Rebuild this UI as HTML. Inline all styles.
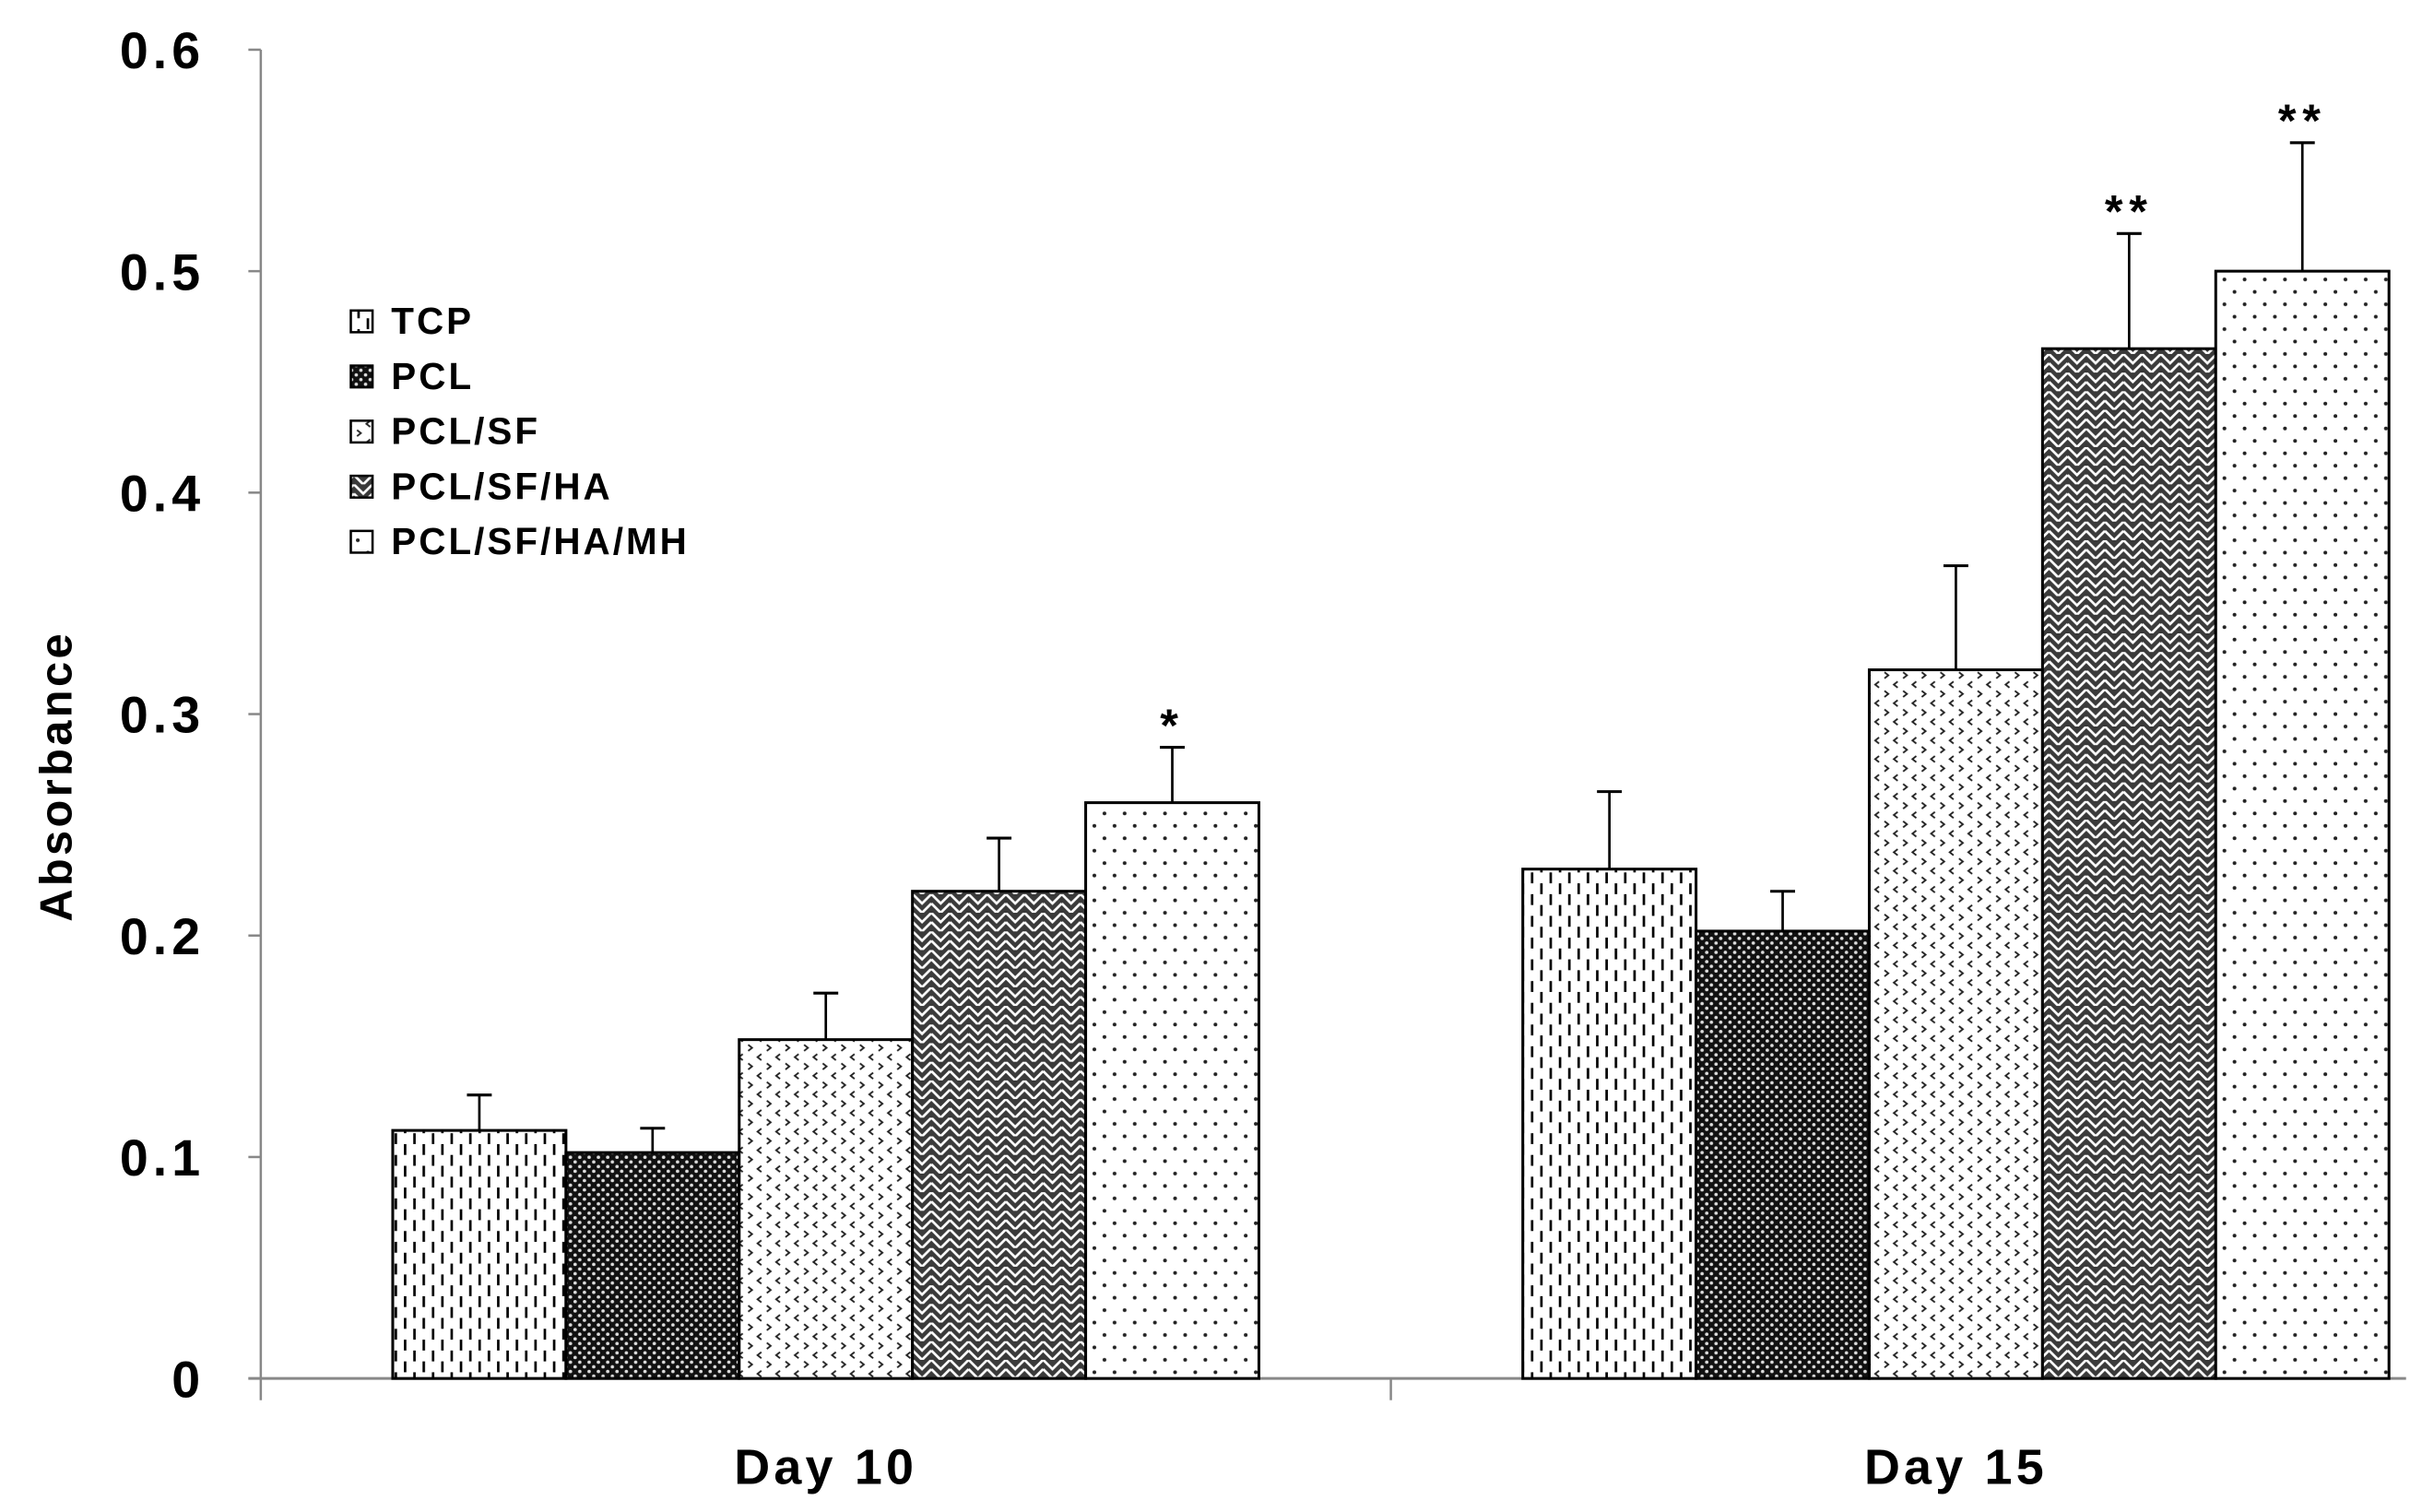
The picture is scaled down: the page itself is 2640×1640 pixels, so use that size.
<!DOCTYPE html>
<html><head><meta charset="utf-8"><style>
html,body{margin:0;padding:0;background:#fff;}
svg{display:block;}
text{font-family:"Liberation Sans",sans-serif;font-weight:bold;fill:#000;}
</style></head><body>
<svg id="chart" width="2640" height="1640" viewBox="0 0 1568 974" xmlns="http://www.w3.org/2000/svg">
<defs>
<pattern id="p0" width="12" height="14" patternUnits="userSpaceOnUse"><rect width="12" height="14" fill="#fff"/><line x1="3" y1="2" x2="3" y2="9" stroke="#000" stroke-width="1.6"/><line x1="9" y1="9" x2="9" y2="16" stroke="#000" stroke-width="1.6"/><line x1="9" y1="-5" x2="9" y2="2" stroke="#000" stroke-width="1.6"/></pattern>
<pattern id="p1" width="6" height="6" patternUnits="userSpaceOnUse"><rect width="6" height="6" fill="#111"/><circle cx="1.5" cy="1.5" r="1.1" fill="#ddd"/><circle cx="4.5" cy="4.5" r="1.1" fill="#ddd"/></pattern>
<pattern id="p2" width="12" height="12" patternUnits="userSpaceOnUse"><rect width="12" height="12" fill="#fff"/><path d="M2 1 L4.5 3 L2 5" fill="none" stroke="#222" stroke-width="1.1"/><path d="M10.5 7 L8 9 L10.5 11" fill="none" stroke="#222" stroke-width="1.1"/></pattern>
<pattern id="p3" width="12" height="12" patternUnits="userSpaceOnUse"><rect width="12" height="12" fill="#3a3a3a"/><path d="M0 0 L6 6 L12 0 M0 6 L6 12 L12 6" stroke="#fff" stroke-width="1.6" fill="none"/></pattern>
<pattern id="p4" width="13" height="16" patternUnits="userSpaceOnUse"><rect width="13" height="16" fill="#fff"/><circle cx="3" cy="4" r="1.2" fill="#222"/><circle cx="9.5" cy="12" r="1.2" fill="#222"/></pattern>
</defs>
<g id="axes"></g>
<g id="bars"></g>
<g id="legend"></g>
</svg>
<script>
const categories = ["Day 10", "Day 15"];
const seriesNames = ["TCP", "PCL", "PCL/SF", "PCL/SF/HA", "PCL/SF/HA/MH"];
const day10Values = [0.112, 0.102, 0.153, 0.220, 0.260];
const day15Values = [0.230, 0.202, 0.320, 0.465, 0.500];
const day10Errors = [0.016, 0.011, 0.021, 0.024, 0.025];
const day15Errors = [0.035, 0.018, 0.047, 0.052, 0.058];
const day10Marks = ["", "", "", "", "*"];
const day15Marks = ["", "", "", "**", "**"];
const yTicks = [0, 0.1, 0.2, 0.3, 0.4, 0.5, 0.6];
const yTickLabels = ["0", "0.1", "0.2", "0.3", "0.4", "0.5", "0.6"];

const NS = "http://www.w3.org/2000/svg";
const X0 = 168, X1 = 1550, Y0 = 888, YTOP = 32;
function yS(v){ return Y0 - v/0.6*(Y0-YTOP); }
const groupW = 728;
const barW = 111.6;
function xBar(g, i){ return X0 + g*groupW + groupW/2 - barW*seriesNames.length/2 + i*barW; }
function mk(tag, attrs, parent){ const e=document.createElementNS(NS,tag); for(const k in attrs) e.setAttribute(k,attrs[k]); parent.appendChild(e); return e; }

const axes = document.getElementById('axes');
let a = mk('line',{x1:X0,y1:YTOP,x2:X0,y2:Y0+14,stroke:'#888','stroke-width':1.5},axes);


a = mk('line',{x1:X0-8,y1:Y0,x2:X1,y2:Y0,stroke:'#888','stroke-width':1.8},axes);


a = mk('line',{x1:X0+groupW,y1:Y0,x2:X0+groupW,y2:Y0+14,stroke:'#888','stroke-width':1.5},axes);


yTicks.forEach((v,i)=>{
  const t = mk('line',{x1:X0-8,y1:yS(v),x2:X0,y2:yS(v),stroke:'#888','stroke-width':1.5},axes);
  
  
  const l = mk('text',{x:X0-36,y:yS(v)+12,'text-anchor':'end','font-size':33,'letter-spacing':'3'},axes);
  l.textContent = yTickLabels[i];
  
  
});
categories.forEach((c,g)=>{
  const l = mk('text',{x:X0+g*groupW+groupW/2,y:956,'text-anchor':'middle','font-size':32,'letter-spacing':'2.5'},axes);
  l.textContent = c;
  
  
});
const yt = mk('text',{x:0,y:0,'text-anchor':'middle','font-size':29,'letter-spacing':'2',transform:'translate(46,500) rotate(-90)'},axes);
yt.textContent = 'Absorbance';



const bars = document.getElementById('bars');
const allVals = [day10Values, day15Values], allErr = [day10Errors, day15Errors], allMarks = [day10Marks, day15Marks];
categories.forEach((c,g)=>{
  seriesNames.forEach((s,i)=>{
    const v = allVals[g][i], e = allErr[g][i];
    const x = xBar(g,i), cx = x+barW/2;
    const el = mk('line',{x1:cx,y1:yS(v),x2:cx,y2:yS(v+e),stroke:'#000','stroke-width':1.6},bars);
    
    
    const cap = mk('line',{x1:cx-8,y1:yS(v+e),x2:cx+8,y2:yS(v+e),stroke:'#000','stroke-width':1.8},bars);
    
    
    const r = mk('rect',{x:x,y:yS(v),width:barW,height:Y0-yS(v),fill:'url(#p'+i+')',stroke:'#000','stroke-width':1.8},bars);
    
    
    if (allMarks[g][i]) {
      const m = mk('text',{x:cx,y:yS(v+e)-4,'text-anchor':'middle','font-size':30,'font-weight':'normal',fill:'#444','letter-spacing':'4'},bars);
      m.textContent = allMarks[g][i];
      
      
    }
  });
});

const legend = document.getElementById('legend');
seriesNames.forEach((s,i)=>{
  const y = 207 + i*35.5;
  const r = mk('rect',{x:226,y:y-7,width:14,height:14,fill:'url(#p'+i+')',stroke:'#000','stroke-width':1.5},legend);
  
  
  const t = mk('text',{x:252,y:y+8,'font-size':24,'letter-spacing':'1.8'},legend);
  t.textContent = s;
  
  
});
</script>
</body></html>
